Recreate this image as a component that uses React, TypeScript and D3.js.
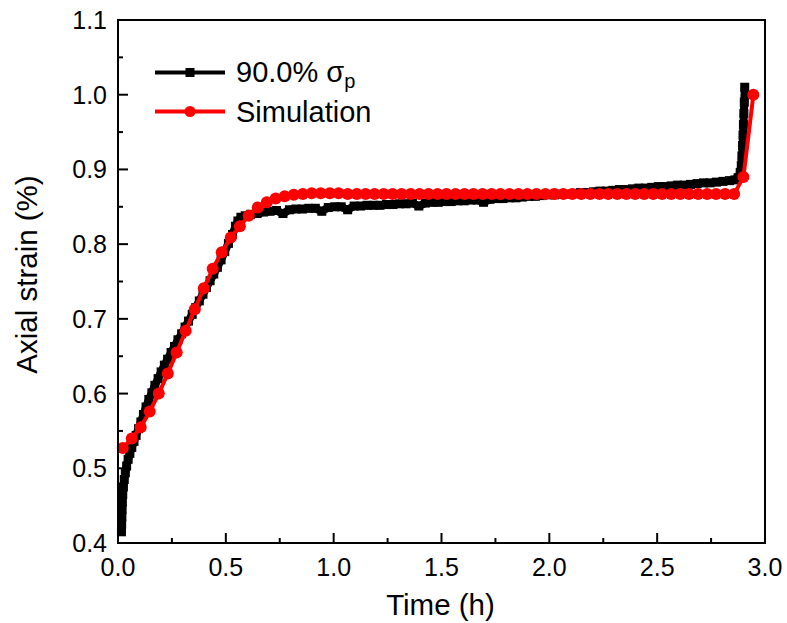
import * as d3 from "d3";

// measured series: 90.0% σp creep test (time in h, axial strain in %)
const expTime = [
  0.016, 0.017, 0.018, 0.019, 0.020, 0.022, 0.025, 0.029, 0.034, 0.040,
  0.047, 0.055, 0.064, 0.074, 0.084, 0.095, 0.106, 0.118, 0.130, 0.143,
  0.157, 0.171, 0.186, 0.200, 0.215, 0.230, 0.246, 0.262, 0.278, 0.295,
  0.311, 0.327, 0.344, 0.360, 0.377, 0.394, 0.410, 0.427, 0.444, 0.461,
  0.478, 0.495, 0.512, 0.531, 0.545, 0.556, 0.570, 0.590, 0.615, 0.645,
  0.675, 0.705, 0.735, 0.765, 0.795, 0.825, 0.855, 0.885, 0.915, 0.945,
  0.975, 1.005, 1.035, 1.065, 1.095, 1.125, 1.155, 1.185, 1.215, 1.245,
  1.275, 1.305, 1.335, 1.365, 1.395, 1.425, 1.455, 1.485, 1.515, 1.545,
  1.575, 1.605, 1.635, 1.665, 1.695, 1.725, 1.755, 1.785, 1.815, 1.845,
  1.875, 1.905, 1.935, 1.965, 1.995, 2.025, 2.055, 2.085, 2.115, 2.145,
  2.175, 2.205, 2.235, 2.265, 2.295, 2.325, 2.355, 2.385, 2.415, 2.445,
  2.475, 2.505, 2.535, 2.565, 2.595, 2.625, 2.655, 2.685, 2.715, 2.745,
  2.775, 2.805, 2.835, 2.860, 2.875, 2.885, 2.890, 2.893, 2.896, 2.898,
  2.900, 2.902, 2.904, 2.906,
];
const expStrain = [
  0.415, 0.425, 0.435, 0.445, 0.455, 0.465, 0.475, 0.485, 0.494, 0.503,
  0.512, 0.520, 0.528, 0.536, 0.544, 0.553, 0.562, 0.572, 0.582, 0.592,
  0.601, 0.611, 0.620, 0.629, 0.638, 0.646, 0.655, 0.663, 0.672, 0.680,
  0.689, 0.697, 0.706, 0.715, 0.724, 0.733, 0.742, 0.751, 0.760, 0.769,
  0.779, 0.790, 0.801, 0.813, 0.824, 0.831, 0.836, 0.838, 0.840, 0.841,
  0.843, 0.844, 0.845, 0.841, 0.846, 0.847, 0.847, 0.848, 0.848, 0.844,
  0.849, 0.850, 0.850, 0.846, 0.851, 0.851, 0.852, 0.852, 0.852, 0.853,
  0.853, 0.854, 0.854, 0.855, 0.851, 0.855, 0.856, 0.856, 0.857, 0.857,
  0.858, 0.858, 0.859, 0.859, 0.856, 0.860, 0.861, 0.861, 0.862, 0.862,
  0.863, 0.864, 0.864, 0.865, 0.866, 0.866, 0.867, 0.867, 0.868, 0.869,
  0.869, 0.870, 0.871, 0.871, 0.872, 0.873, 0.873, 0.874, 0.875, 0.875,
  0.876, 0.877, 0.877, 0.878, 0.879, 0.879, 0.880, 0.881, 0.882, 0.882,
  0.883, 0.884, 0.885, 0.886, 0.889, 0.896, 0.905, 0.918, 0.932, 0.946,
  0.960, 0.975, 0.990, 1.010,
];

// simulation series
const simTime = [
  0.022, 0.064, 0.105, 0.147, 0.189, 0.231, 0.272, 0.314, 0.356, 0.398,
  0.439, 0.481, 0.523, 0.565, 0.606, 0.648, 0.690, 0.731, 0.773, 0.815,
  0.857, 0.898, 0.940, 0.982, 1.023, 1.065, 1.107, 1.148, 1.190, 1.232,
  1.273, 1.315, 1.357, 1.398, 1.440, 1.482, 1.523, 1.565, 1.607, 1.648,
  1.690, 1.732, 1.773, 1.815, 1.857, 1.898, 1.940, 1.982, 2.023, 2.065,
  2.107, 2.148, 2.190, 2.232, 2.273, 2.315, 2.357, 2.398, 2.440, 2.482,
  2.523, 2.565, 2.607, 2.648, 2.690, 2.732, 2.773, 2.815, 2.857, 2.900,
  2.946,
];
const simStrain = [
  0.527, 0.540, 0.555, 0.576, 0.600, 0.627, 0.655, 0.684, 0.713, 0.741,
  0.767, 0.789, 0.809, 0.824, 0.838, 0.849, 0.856, 0.861, 0.864, 0.866,
  0.867, 0.868, 0.868, 0.868, 0.868, 0.867, 0.867, 0.867, 0.867, 0.867,
  0.867, 0.867, 0.867, 0.867, 0.867, 0.867, 0.867, 0.867, 0.867, 0.867,
  0.867, 0.867, 0.867, 0.867, 0.867, 0.867, 0.867, 0.867, 0.867, 0.867,
  0.867, 0.867, 0.867, 0.867, 0.867, 0.867, 0.867, 0.867, 0.867, 0.867,
  0.867, 0.867, 0.867, 0.867, 0.867, 0.867, 0.867, 0.867, 0.867, 0.890,
  1.000,
];

const xTicks = [0, 0.5, 1.0, 1.5, 2.0, 2.5, 3.0];
const yTicks = [0.4, 0.5, 0.6, 0.7, 0.8, 0.9, 1.0, 1.1];

const FONT = '"Liberation Sans", Arial, Helvetica, sans-serif';
const RED = "#ff0000";

export default function App() {
  const W = 787, H = 623;
  const m = { left: 118, right: 765, top: 20, bottom: 543 };

  const x = d3.scaleLinear().domain([0, 3]).range([m.left, m.right]);
  const y = d3.scaleLinear().domain([0.4, 1.1]).range([m.bottom, m.top]);

  const exp = expTime.map((t, i) => [t, expStrain[i]] as [number, number]);
  const sim = simTime.map((t, i) => [t, simStrain[i]] as [number, number]);

  const line = d3.line<[number, number]>().x(d => x(d[0])).y(d => y(d[1]));

  // minor ticks halfway between majors
  const xMinor = d3.pairs(xTicks).map(([a, b]) => (a + b) / 2);
  const yMinor = d3.pairs(yTicks).map(([a, b]) => (a + b) / 2);

  const sq = 9;

  return (
    <svg width={W} height={H} style={{ position: "absolute", left: 0, top: 0, background: "#fff" }} fontFamily={FONT}>
      {/* data */}
      <path d={line(exp) ?? ""} fill="none" stroke="#000" strokeWidth={8} strokeLinejoin="round" strokeLinecap="round" />
      {exp.map((d, i) => (
        <rect key={`e${i}`} x={x(d[0]) - sq / 2} y={y(d[1]) - sq / 2} width={sq} height={sq} fill="#000" />
      ))}
      <path d={line(sim) ?? ""} fill="none" stroke={RED} strokeWidth={4} strokeLinejoin="round" />
      {sim.map((d, i) => (
        <circle key={`s${i}`} cx={x(d[0])} cy={y(d[1])} r={6} fill={RED} />
      ))}

      {/* frame */}
      <rect x={m.left} y={m.top} width={m.right - m.left} height={m.bottom - m.top} fill="none" stroke="#000" strokeWidth={2} />

      {/* x ticks (inward) */}
      {xTicks.map(t => (
        <g key={`xt${t}`}>
          <line x1={x(t)} x2={x(t)} y1={m.bottom} y2={m.bottom - 10} stroke="#000" strokeWidth={2} />
          <text x={x(t)} y={m.bottom + 33} fontSize={25} textAnchor="middle" fill="#000">{t.toFixed(1)}</text>
        </g>
      ))}
      {xMinor.map(t => (
        <line key={`xm${t}`} x1={x(t)} x2={x(t)} y1={m.bottom} y2={m.bottom - 5} stroke="#000" strokeWidth={2} />
      ))}

      {/* y ticks (inward) */}
      {yTicks.map(t => (
        <g key={`yt${t}`}>
          <line x1={m.left} x2={m.left + 10} y1={y(t)} y2={y(t)} stroke="#000" strokeWidth={2} />
          <text x={m.left - 11} y={y(t)} dy="0.36em" fontSize={25} textAnchor="end" fill="#000">{t.toFixed(1)}</text>
        </g>
      ))}
      {yMinor.map(t => (
        <line key={`ym${t}`} x1={m.left} x2={m.left + 5} y1={y(t)} y2={y(t)} stroke="#000" strokeWidth={2} />
      ))}

      {/* axis titles */}
      <text x={(m.left + m.right) / 2 - 1} y={615} fontSize={29.5} textAnchor="middle" fill="#000">Time (h)</text>
      <text transform={`translate(37,${(m.top + m.bottom) / 2 - 7}) rotate(-90)`} fontSize={29.5} textAnchor="middle" fill="#000">Axial strain (%)</text>

      {/* legend */}
      <g>
        <line x1={155} x2={225} y1={72.5} y2={72.5} stroke="#000" strokeWidth={4} />
        <rect x={190 - 4.5} y={72.5 - 4.5} width={9} height={9} fill="#000" />
        <text x={236} y={82} fontSize={29} fill="#000">
          90.0% σ<tspan fontSize={20} dy={6}>p</tspan>
        </text>
        <line x1={155} x2={225} y1={111.5} y2={111.5} stroke={RED} strokeWidth={4} />
        <circle cx={190} cy={111.5} r={5.5} fill={RED} />
        <text x={236} y={121.5} fontSize={29} fill="#000">Simulation</text>
      </g>
    </svg>
  );
}
